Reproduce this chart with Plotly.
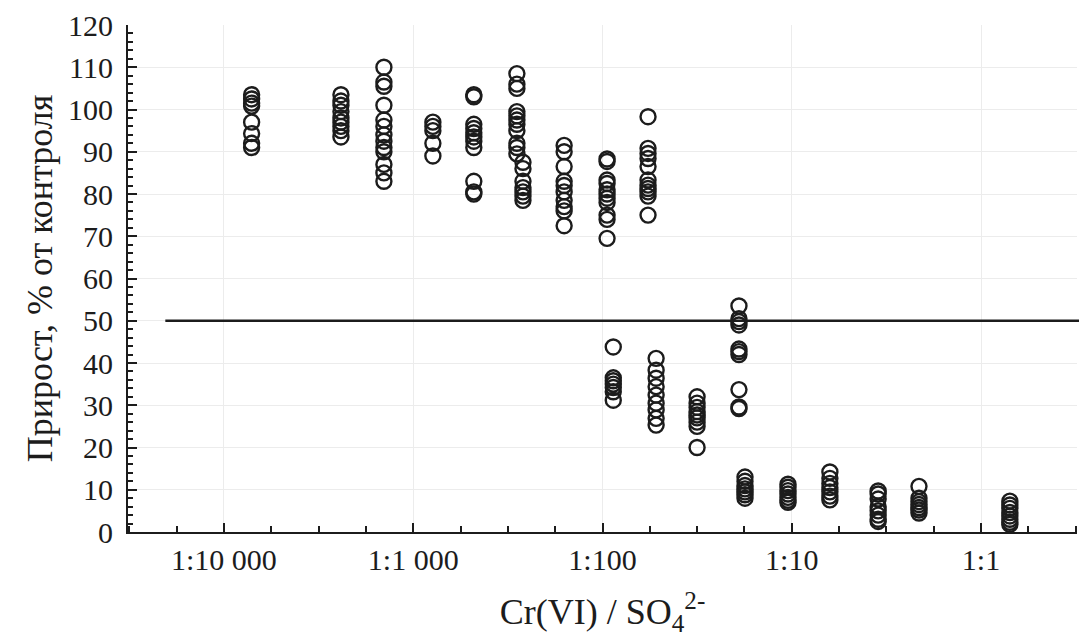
import math
import plotly.graph_objects as go

# Ratio Cr(VI)/SO4^2- for each measured group, and growth (% of control)
ratios = [1.4e-4, 4.15e-4, 7.0e-4, 1.27e-3, 2.09e-3, 3.53e-3, 3.8e-3, 6.27e-3,
          1.057e-2, 1.74e-2, 1.14e-2, 1.92e-2, 3.16e-2, 5.26e-2, 5.66e-2,
          9.55e-2, 0.159, 0.286, 0.47, 1.42]

growth = [
    [103.5, 102.5, 101.5, 100.8, 97, 94.3, 92, 91],
    [103.5, 102, 101, 99.5, 98, 97, 96, 95, 93.5],
    [110, 106.5, 105.5, 101, 97.5, 96, 94, 92.5, 91, 90, 87, 85, 83],
    [97, 96, 95, 92, 89],
    [103.5, 103, 96.5, 95.5, 94.5, 93.5, 92.5, 91, 83, 80.5, 80],
    [108.5, 106, 105, 99.5, 98.5, 97.5, 96.5, 95, 92, 91, 89.5],
    [87.5, 86, 83, 81.5, 80.5, 79.5, 78.5],
    [91.5, 90, 86.5, 83, 82, 80.5, 78.5, 77, 76, 72.5],
    [88.3, 87.7, 83.3, 82.5, 81, 80, 79, 78, 75, 74, 69.5],
    [98.3, 90.8, 89.6, 88.4, 86.5, 83.3, 82.1, 81.3, 80.5, 79.5, 75],
    [43.8, 36.5, 35.8, 35, 34.2, 33.2, 31.2],
    [41.1, 38.3, 36.4, 34.4, 32.4, 30.5, 28.9, 26.9, 25.3],
    [32, 30.5, 29.5, 28.5, 27.7, 27, 26, 25, 20],
    [53.5, 50.5, 49.8, 49, 43.3, 42.7, 42, 33.7, 29.6, 29.2],
    [13, 12, 11, 10.2, 9.5, 8.8, 8],
    [11.3, 10.6, 9.8, 9, 8.2, 7.5, 7],
    [14.2, 12.7, 11.5, 10.5, 9.5, 8.5, 7.6],
    [9.7, 9, 7.8, 6, 5, 4, 3, 2.5],
    [10.8, 8, 7.2, 6.5, 5.8, 5.2, 4.5],
    [7.3, 6.4, 5.6, 4.6, 3.8, 3, 2.3, 1.8],
]

x_tickvals = [1e-4, 1e-3, 1e-2, 1e-1, 1]
x_ticktext = ["1:10 000", "1:1 000", "1:100", "1:10", "1:1"]
x_minor = [10 ** (k / 4) for k in range(-18, 3)]

threshold = 50
threshold_start = 4.9e-5

x_range_log = [-4.507, 0.507]

xs, ys = [], []
for r, vals in zip(ratios, growth):
    for v in vals:
        xs.append(r)
        ys.append(v)

ink = "#1c1c1c"
font_family = "Liberation Serif, Times New Roman, serif"

fig = go.Figure()
fig.add_trace(go.Scatter(
    x=xs, y=ys, mode="markers",
    marker=dict(symbol="circle-open", size=15, color=ink, line=dict(width=2.4, color=ink)),
    showlegend=False, cliponaxis=False,
))

x0_paper = (math.log10(threshold_start) - x_range_log[0]) / (x_range_log[1] - x_range_log[0])
fig.add_shape(type="line", xref="paper", yref="y",
              x0=x0_paper, x1=1.0105, y0=threshold, y1=threshold,
              line=dict(color=ink, width=2.5))

# the page body adds an 8 px margin, so the figure is 8 px smaller than the window
fig.update_layout(
    width=1079, height=629,
    margin=dict(l=120, r=10, t=17, b=105, autoexpand=False),
    paper_bgcolor="white", plot_bgcolor="white",
    font=dict(family=font_family, color=ink, size=30),
    xaxis=dict(
        type="log", range=x_range_log, automargin=False,
        tickmode="array", tickvals=x_tickvals, ticktext=x_ticktext,
        ticks="inside", ticklen=9, tickwidth=2, tickcolor=ink,
        showline=True, linecolor=ink, linewidth=2.2, mirror=False,
        showgrid=True, gridcolor="#ececec", gridwidth=1,
        zeroline=False,
        ticklabelstandoff=0,
        minor=dict(tickvals=x_minor, ticks="inside", ticklen=6, tickwidth=2,
                   tickcolor=ink, showgrid=False),
        title=dict(text="Cr(VI) / SO<sub>4</sub><sup>2-</sup>",
                   font=dict(size=36, family=font_family, color=ink), standoff=24),
        tickfont=dict(size=30, family=font_family, color=ink),
    ),
    yaxis=dict(
        range=[0, 120], dtick=10, tick0=0, automargin=False,
        ticks="inside", ticklen=9, tickwidth=2, tickcolor=ink,
        showline=True, linecolor=ink, linewidth=2.2, mirror=False,
        showgrid=True, gridcolor="#ececec", gridwidth=1,
        zeroline=False,
        ticklabelstandoff=7,
        minor=dict(dtick=2, ticks="inside", ticklen=5, tickwidth=2,
                   tickcolor=ink, showgrid=False),
        title=dict(text="Прирост, % от контроля",
                   font=dict(size=36, family=font_family, color=ink), standoff=4),
        tickfont=dict(size=30, family=font_family, color=ink),
    ),
)

fig.write_html("out.html")
